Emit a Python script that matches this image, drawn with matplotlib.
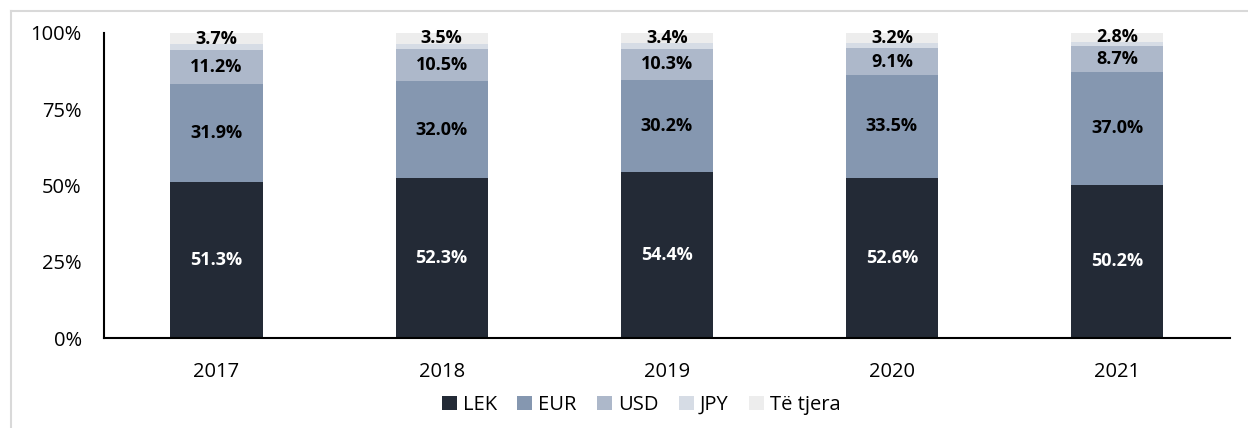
import matplotlib
matplotlib.use("Agg")
import matplotlib.pyplot as plt
from matplotlib.lines import Line2D
import numpy as np

plt.rcParams['font.family'] = ['Open Sans', 'DejaVu Sans']

years = ["2017", "2018", "2019", "2020", "2021"]
lek = [51.3, 52.3, 54.4, 52.6, 50.2]
eur = [31.9, 32.0, 30.2, 33.5, 37.0]
usd = [11.2, 10.5, 10.3, 9.1, 8.7]
jpy = [1.9, 1.7, 1.7, 1.6, 1.3]
tjera = [3.7, 3.5, 3.4, 3.2, 2.8]
series_names = ["LEK", "EUR", "USD", "JPY", "Të tjera"]
colors = ["#232a36", "#8597b0", "#adb8ca", "#d6dce5", "#ededed"]
label_colors = ["white", "black", "black", None, "black"]

W, H = 1248, 428
fig = plt.figure(figsize=(W / 100, H / 100), dpi=100)
ax = fig.add_axes([104 / W, (H - 338) / H, (1229.5 - 104) / W, (338 - 33) / H])

x = np.arange(len(years))
bottom = np.zeros(len(years))
data = [lek, eur, usd, jpy, tjera]
for vals, name, col, lc in zip(data, series_names, colors, label_colors):
    vals = np.array(vals)
    ax.bar(x, vals, 0.41, bottom=bottom, color=col, label=name, zorder=2)
    if lc is not None:
        for xi, b, v in zip(x, bottom, vals):
            ax.text(xi, b + v / 2, f"{v:.1f}%", ha="center", va="center",
                    fontsize=13, fontweight="bold", color=lc, zorder=3)
    bottom = bottom + vals

ax.set_xlim(-0.5, len(years) - 0.5)
ax.set_ylim(0, 100)
ax.set_yticks([0, 25, 50, 75, 100])
ax.set_yticklabels(["0%", "25%", "50%", "75%", "100%"])
ax.set_xticks(x)
ax.set_xticklabels(years)
ax.tick_params(axis="both", length=0, labelsize=14.5, colors="black")
ax.tick_params(axis="y", pad=16)
ax.tick_params(axis="x", pad=17)
for s in ["top", "right"]:
    ax.spines[s].set_visible(False)
for s in ["left", "bottom"]:
    ax.spines[s].set_color("black")
    ax.spines[s].set_linewidth(1.5)

leg = fig.legend(loc="center", bbox_to_anchor=(641 / W, (H - 405) / H), ncol=5,
                 frameon=False, fontsize=14.5, handlelength=0.75, handleheight=0.75,
                 handletextpad=0.3, columnspacing=1.0)

# light outer frame
fig.add_artist(Line2D([11 / W, 11 / W], [0, 1 - 11 / H], color="#d9d9d9", lw=1.5))
fig.add_artist(Line2D([11 / W, 1], [1 - 11 / H, 1 - 11 / H], color="#d9d9d9", lw=1.5))

fig.savefig("out.png", dpi=100)
